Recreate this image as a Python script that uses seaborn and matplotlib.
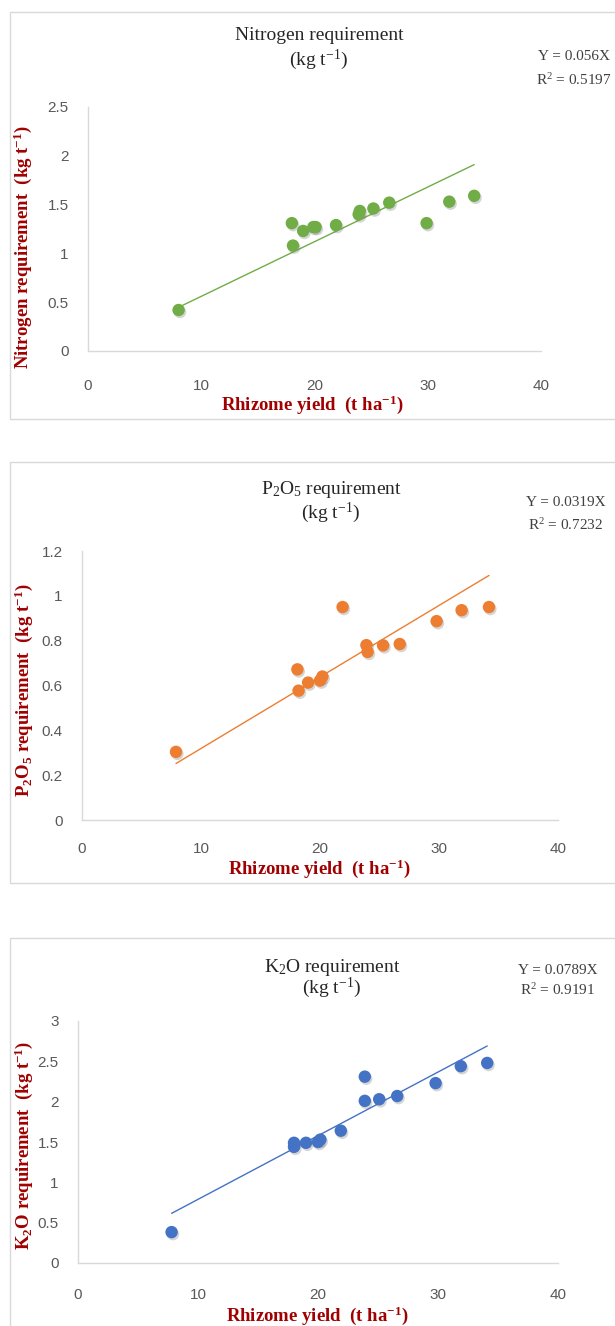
import numpy as np
import pandas as pd
import matplotlib.pyplot as plt
import matplotlib.patheffects as pe
from matplotlib.patches import Rectangle
import seaborn as sns

# rhizome yield (t/ha) and nutrient requirement (kg/t)
yield_n = [8.0, 18.0, 18.1, 19.0, 19.9, 20.1, 21.9, 23.9, 24.0, 25.2, 26.6, 29.9, 31.9, 34.1]
n_req = [0.42, 1.31, 1.08, 1.23, 1.27, 1.27, 1.29, 1.40, 1.435, 1.46, 1.52, 1.31, 1.53, 1.59]

yield_p = [7.9, 18.1, 18.2, 19.0, 20.0, 20.2, 21.9, 23.9, 24.0, 25.3, 26.7, 29.8, 31.9, 34.2]
p_req = [0.304, 0.672, 0.577, 0.613, 0.622, 0.64, 0.95, 0.78, 0.75, 0.779, 0.785, 0.887, 0.936, 0.95]

yield_k = [7.8, 18.0, 18.0, 19.0, 20.0, 20.2, 21.9, 23.9, 23.9, 25.1, 26.6, 29.8, 31.9, 34.1]
k_req = [0.383, 1.49, 1.44, 1.49, 1.50, 1.53, 1.64, 2.31, 2.01, 2.03, 2.07, 2.23, 2.44, 2.48]

slopes = [0.056, 0.0319, 0.0789]
r2 = ['0.5197', '0.7232', '0.9191']
colors = ['#70AD47', '#ED7D31', '#4472C4']
titles = ['Nitrogen requirement', 'P$_2$O$_5$ requirement', 'K$_2$O requirement']
ylabels = ['Nitrogen requirement  (kg t$^{\\mathbf{-1}}$)',
           'P$_\\mathbf{2}$O$_\\mathbf{5}$ requirement  (kg t$^{\\mathbf{-1}}$)',
           'K$_\\mathbf{2}$O requirement  (kg t$^{\\mathbf{-1}}$)']
ylims = [2.5, 1.2, 3]
yticks = [[0, 0.5, 1, 1.5, 2, 2.5], [0, 0.2, 0.4, 0.6, 0.8, 1, 1.2], [0, 0.5, 1, 1.5, 2, 2.5, 3]]
yticklabels = [['0', '0.5', '1', '1.5', '2', '2.5'],
               ['0', '0.2', '0.4', '0.6', '0.8', '1', '1.2'],
               ['0', '0.5', '1', '1.5', '2', '2.5', '3']]
xs = [yield_n, yield_p, yield_k]
ys = [n_req, p_req, k_req]

sns.set_style('white')
plt.rcParams['font.family'] = ['Liberation Serif', 'DejaVu Serif']
plt.rcParams['mathtext.fontset'] = 'custom'
plt.rcParams['mathtext.rm'] = 'Liberation Serif'
plt.rcParams['mathtext.it'] = 'Liberation Serif'
plt.rcParams['mathtext.bf'] = 'Liberation Serif:bold'

W, H = 615, 1326
fig = plt.figure(figsize=(W / 100, H / 100), dpi=100)

def fx(px):
    return px / W

def fy(py):
    return 1 - py / H

# panel layout in pixels: box (top, bottom), axes (left, right, top, bottom), text positions, x tick pad
panels = [
    dict(box=(12, 419), ax=(88, 541, 107, 351), title=(319, 35, 60), eq=(574, 57, 80), ylab=(23, 247), xlab=(312, 405), pad=20),
    dict(box=(462, 883), ax=(82, 558, 551, 820), title=(331, 490, 513), eq=(566, 503, 525), ylab=(24, 690), xlab=(319, 869), pad=16),
    dict(box=(938, 1340), ax=(78, 558, 1021, 1263), title=(332, 967, 988), eq=(558, 970, 990), ylab=(24, 1145), xlab=(317, 1316), pad=18),
]

red = '#A00000'
for i, p in enumerate(panels):
    b0, b1 = p['box']
    fig.patches.append(Rectangle((fx(10), fy(b1)), fx(700), (b1 - b0) / H, transform=fig.transFigure,
                                 fill=False, edgecolor='#D9D9D9', lw=1.0))
    l, r, t, bt = p['ax']
    ax = fig.add_axes([fx(l), fy(bt), fx(r - l), (bt - t) / H])

    df = pd.DataFrame({'yield': xs[i], 'req': ys[i]})
    sns.scatterplot(data=df, x='yield', y='req', ax=ax, color=colors[i], s=80, edgecolor='none', zorder=3)
    ax.collections[-1].set_path_effects([pe.SimplePatchShadow(offset=(1, -1.5), shadow_rgbFace='#777777', alpha=0.3),
                                         pe.Normal()])

    xl = [min(xs[i]), max(xs[i])]
    trend = pd.DataFrame({'yield': xl, 'fit': [slopes[i] * v for v in xl]})
    sns.lineplot(data=trend, x='yield', y='fit', ax=ax, color=colors[i], lw=1.0, zorder=2)

    ax.set_xlim(0, 40)
    ax.set_ylim(0, ylims[i])
    ax.set_xticks([0, 10, 20, 30, 40])
    ax.set_yticks(yticks[i])
    ax.set_yticklabels(yticklabels[i])
    ax.set_xlabel('')
    ax.set_ylabel('')
    ax.tick_params(length=0, labelsize=11, labelcolor='#595959')
    ax.tick_params(axis='x', pad=p['pad'])
    ax.tick_params(axis='y', pad=14)
    for lab in ax.get_xticklabels() + ax.get_yticklabels():
        lab.set_family(['Liberation Sans', 'DejaVu Sans'])
    sns.despine(ax=ax)
    for s in ['left', 'bottom']:
        ax.spines[s].set_color('#D9D9D9')
        ax.spines[s].set_linewidth(1.0)

    tx, ty1, ty2 = p['title']
    fig.text(fx(tx), fy(ty1), titles[i], ha='center', va='center', fontsize=14, color='#262626')
    fig.text(fx(tx), fy(ty2), '(kg t$^{-1}$)', ha='center', va='center', fontsize=14, color='#262626')

    ex, ey1, ey2 = p['eq']
    fig.text(fx(ex), fy(ey1), 'Y = %sX' % slopes[i], ha='center', va='center', fontsize=11, color='#404040')
    fig.text(fx(ex), fy(ey2), 'R$^2$ = %s' % r2[i], ha='center', va='center', fontsize=11, color='#404040')

    yx, yy = p['ylab']
    fig.text(fx(yx), fy(yy), ylabels[i], rotation=90, ha='center', va='center', fontsize=13.5,
             fontweight='bold', color=red)
    xx, xy = p['xlab']
    fig.text(fx(xx), fy(xy), 'Rhizome yield  (t ha$^{\\mathbf{-1}}$)', ha='center', va='center', fontsize=13.5,
             fontweight='bold', color=red)

fig.savefig('out.png', dpi=100)
